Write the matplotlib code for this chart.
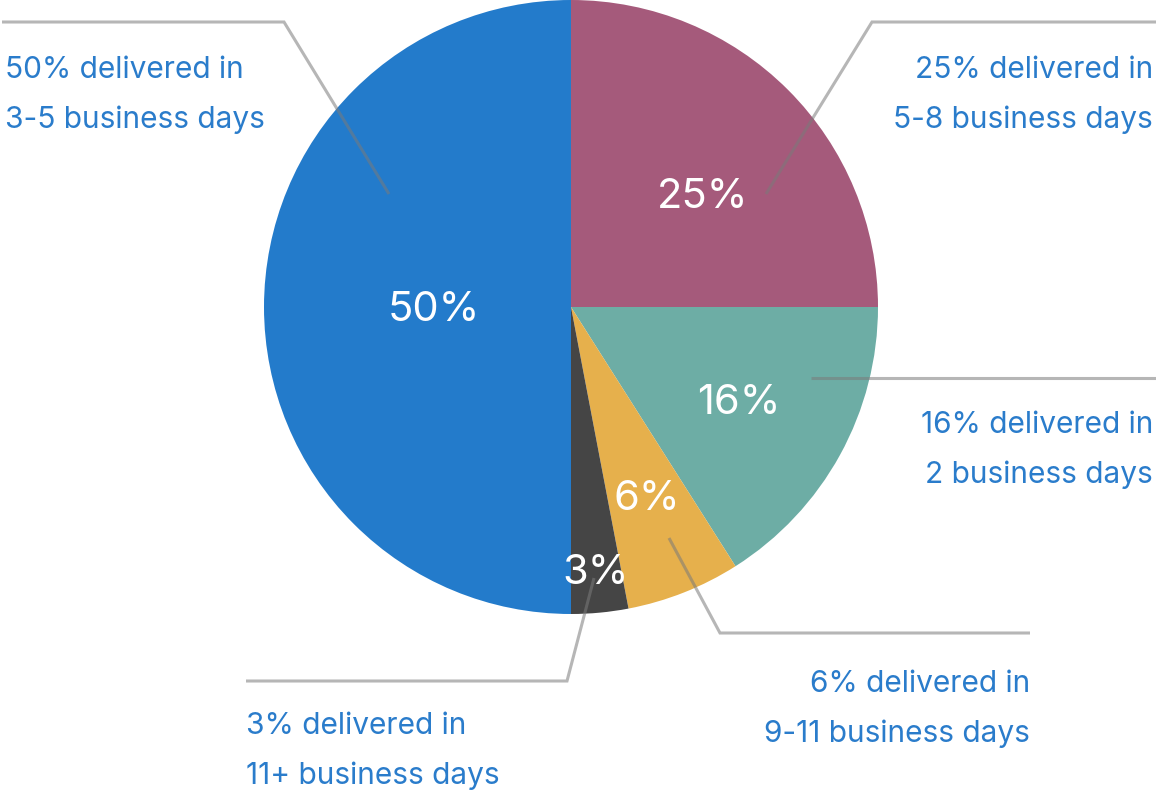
import matplotlib
matplotlib.use("Agg")
import matplotlib.pyplot as plt

# ---- data ----
values = [25, 16, 6, 3, 50]
pct_labels = ["25%", "16%", "6%", "3%", "50%"]
line1 = ["25% delivered in", "16% delivered in", "6% delivered in", "3% delivered in", "50% delivered in"]
line2 = ["5-8 business days", "2 business days", "9-11 business days", "11+ business days", "3-5 business days"]
colors = ["#A55A7B", "#6DADA5", "#E6B04C", "#454545", "#237BCB"]

W, H = 1156, 798
FONT = "Inter"
TEXT_BLUE = "#2A7CCB"

def P(x, y):
    return (x, H - y)

fig = plt.figure(figsize=(W / 100, H / 100), dpi=100)
ax = fig.add_axes([0, 0, 1, 1])

cx, cy = P(571, 307)
R = 307
ax.pie(values, colors=colors, startangle=90, counterclock=False,
       center=(cx, cy), radius=R, frame=True,
       wedgeprops=dict(linewidth=0))
ax.set_xlim(0, W)
ax.set_ylim(0, H)
ax.set_aspect("auto")
ax.axis("off")

# inner percentage labels (layout positions in pixels)
inner_pos = [(703, 197), (739, 403), (647, 499), (596, 573), (434, 310)]
for lab, (x, y) in zip(pct_labels, inner_pos):
    ax.text(*P(x, y), lab, color="white", fontsize=30, family=FONT,
            ha="center", va="center", zorder=5)

# leader lines (layout)
leaders = [
    [(766, 194), (872, 22), (1156, 22)],
    [(811, 378), (1156, 378)],
    [(669, 538), (720, 633), (1030, 633)],
    [(594, 578), (567, 681), (246, 681)],
    [(389, 194), (284, 22), (2, 22)],
]
for pts in leaders:
    xs = [p[0] for p in pts]
    ys = [H - p[1] for p in pts]
    ax.plot(xs, ys, color="#7a7a7a", alpha=0.55, lw=2.2, zorder=4,
            solid_joinstyle="miter", solid_capstyle="butt")

# outer labels (layout): x, y of first line center, ha
outer = [
    (1153, 70, "right"),
    (1153, 425, "right"),
    (1030, 684, "right"),
    (246, 726, "left"),
    (5, 70, "left"),
]
for l1, l2, (x, y, ha) in zip(line1, line2, outer):
    ax.text(*P(x, y), l1, color=TEXT_BLUE, fontsize=21.5, family=FONT,
            ha=ha, va="center")
    ax.text(*P(x, y + 50), l2, color=TEXT_BLUE, fontsize=21.5, family=FONT,
            ha=ha, va="center")

fig.savefig("out.png", dpi=100)
